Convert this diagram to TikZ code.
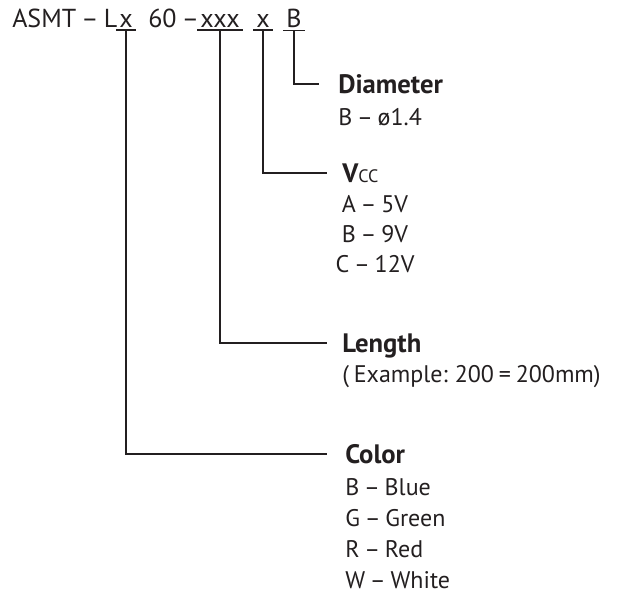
\documentclass[tikz,border=0pt]{standalone}
\usepackage{fontspec}
\setmainfont{PT Sans}[WordSpace=0.75]
\usetikzlibrary{positioning}
\definecolor{ink}{RGB}{35,31,32}

\begin{document}
\begin{tikzpicture}[
        x=0.75pt, y=-0.75pt,
        every node/.style={text=ink},
        code/.style={
                font=\fontsize{19.5}{24}\selectfont,
                inner sep=0pt, anchor=base west
            },
        field/.style={code, anchor=base, inner xsep=2pt, inner ysep=2.25pt},
        head/.style={
                font=\fontsize{20}{24}\selectfont\bfseries,
                anchor=base west, inner sep=0pt,
                text height=13.6pt, text depth=0pt
            },
        body/.style={
                font=\fontsize{18}{22.5}\selectfont,
                anchor=base west, inner sep=0pt
            },
        bar/.style={draw=ink, line width=1.2pt},
        link/.style={bar, shorten >=11.5pt}
    ]
    \useasboundingbox (0,0) rectangle (624,594);

    % part number
    \node[code] (pre) at (12,27) {ASMT\hspace{0.2em}–\hspace{0.2em}L};
    \node[field] (ux) at (126,27) {x};
    \node[code] (mid) at (148,27) {60\hspace{0.2em}–};
    \node[field] (uxxx) at (220,27) {xxx};
    \node[field] (uv) at (263,27) {x};
    \node[field] (ud) at (294,27) {B};

    \foreach \n in {ux,uxxx,uv,ud}
        \draw[bar] (\n.south west) -- (\n.south east);

    % fields
    \node[head] (diam) at (338,93) {Diameter};
    \node[body] (diamv) at (338,125) {B – ø1.4};

    \node[head] (vcc) at (342,182) {V{\mdseries\fontsize{13.5}{14}\selectfont CC}};
    \foreach \t [count=\i] in {A – 5V, B – 9V, C – 12V}
        \node[body, anchor=base] (vccv\i) at (375,182+30*\i) {\t};

    \node[head] (len) at (342,352) {Length};
    \node[body] (lenv) at (342,382) {( Example: 200 = 200mm)};

    \node[head] (col) at (345,463) {Color};
    \foreach \t [count=\i] in {B – Blue, G – Green, R – Red, W – White}
        \node[body] (colv\i) at (345,464+31*\i) {\t};

    % leaders
    \draw[link, shorten >=14pt] (ud.south) |- (diam.west);
    \draw[link] (uv.south) |- (vcc.west);
    \draw[link] (uxxx.south) |- (len.west);
    \draw[link, shorten >=13.5pt] (ux.south) |- (col.west);
\end{tikzpicture}
\end{document}
